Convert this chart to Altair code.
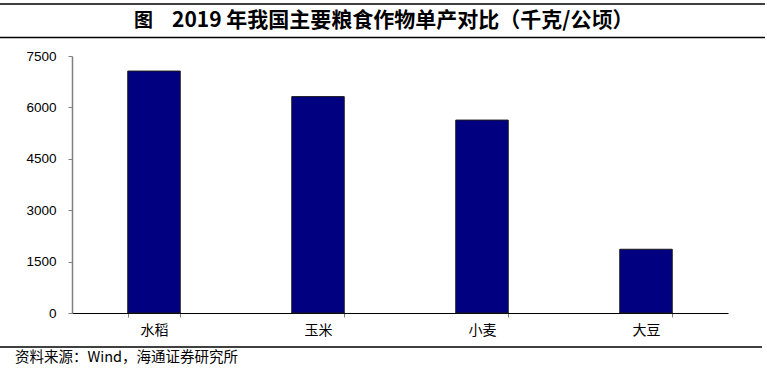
import altair as alt
import pandas as pd

crops = ["水稻", "玉米", "小麦", "大豆"]
yields = [7060, 6315, 5630, 1860]
y_ticks = [0, 1500, 3000, 4500, 6000, 7500]
title_prefix = "图"
title_main = "2019 年我国主要粮食作物单产对比（千克/公顷）"
source_text = "资料来源：Wind，海通证券研究所"

W, H = 656, 257
L, T = 72, 56

df = pd.DataFrame({"crop": crops, "value": yields})
one = pd.DataFrame({"a": [0]})

bars = alt.Chart(df).mark_bar(
    color="#000080", stroke="#1a1a1a", strokeWidth=1
).encode(
    x=alt.X("crop:N", sort=crops, title=None,
            scale=alt.Scale(paddingInner=0.68, paddingOuter=0.34),
            axis=alt.Axis(labelAngle=0, labelFont="Noto Sans CJK SC", labelFontSize=14,
                          labelColor="#000000", labelPadding=6, tickBand="extent",
                          tickSize=4, tickColor="#808080", domainColor="#000000",
                          domainWidth=1.2, grid=False)),
    y=alt.Y("value:Q", title=None,
            scale=alt.Scale(domain=[0, 7500], nice=False),
            axis=alt.Axis(values=y_ticks, format="d", labelFont="Liberation Sans",
                          labelFontSize=13.5, labelColor="#000000", labelPadding=12,
                          tickSize=4, tickColor="#808080", domainColor="#808080",
                          domainWidth=1.5, grid=False)),
)

def hline(x1, x2, y, w=1.5):
    return alt.Chart(one).mark_rule(color="#000000", strokeWidth=w).encode(
        x=alt.value(x1), x2=alt.value(x2), y=alt.value(y))

top_line = hline(-L, 693, 4 - T)
mid_line = hline(-L, 693, 37.5 - T)
src_line = hline(-L, 690, 347 - T)

t1 = alt.Chart(pd.DataFrame({"t": [title_prefix]})).mark_text(
    align="left", baseline="middle", font="Noto Sans CJK SC", fontSize=19,
    fontWeight="bold", color="#000000"
).encode(text="t:N", x=alt.value(134 - L), y=alt.value(20.5 - T))

t2 = alt.Chart(pd.DataFrame({"t": [title_main]})).mark_text(
    align="left", baseline="middle", font="Noto Sans CJK SC", fontSize=21,
    fontWeight="bold", color="#000000"
).encode(text="t:N", x=alt.value(172 - L), y=alt.value(20.5 - T))

src = alt.Chart(pd.DataFrame({"t": [source_text]})).mark_text(
    align="left", baseline="middle", font="Noto Sans CJK SC", fontSize=14.5,
    color="#000000"
).encode(text="t:N", x=alt.value(15 - L), y=alt.value(358 - T))

chart = alt.layer(bars, top_line, mid_line, src_line, t1, t2, src).properties(
    width=W, height=H,
    autosize=alt.AutoSizeParams(type="none"),
    padding={"left": L, "top": T, "right": 767 - L - W, "bottom": 372 - T - H},
    background="#ffffff",
).configure_view(stroke=None)

chart.save("out.html", embed_options={"renderer": "svg", "actions": False})
